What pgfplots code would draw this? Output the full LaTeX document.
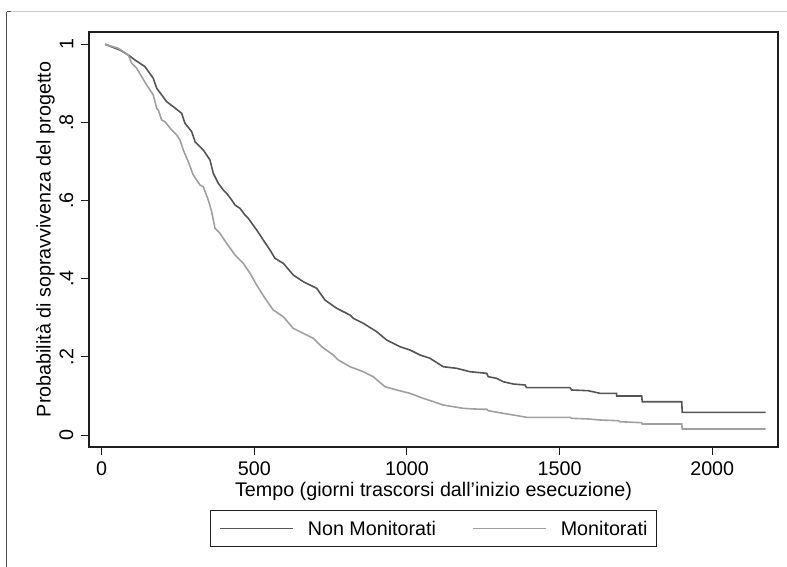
\documentclass[border=0pt]{standalone}
\usepackage{fontspec}
\setmainfont{Liberation Sans}
\usepackage{pgfplots}
\usepackage{pgfplotstable}
\pgfplotsset{compat=1.18}
\definecolor{darkser}{RGB}{85,85,85}
\definecolor{lightser}{RGB}{160,160,160}
\definecolor{framec}{RGB}{30,30,30}

\pgfplotstableread{
t S
10.8 1.000
59.9 0.9854
87.1 0.9726
109.1 0.9598
141.8 0.9427
169.0 0.9130
180.2 0.8874
212.9 0.8531
234.5 0.8403
262.0 0.8234
272.8 0.7978
294.8 0.7763
305.6 0.7507
332.8 0.7295
354.7 0.7039
365.5 0.6698
381.9 0.6442
398.3 0.6271
409.4 0.6186
425.8 0.6015
436.6 0.5887
453.0 0.5802
469.4 0.5631
480.2 0.5546
507.7 0.5247
529.3 0.4991
551.3 0.4735
567.6 0.4523
594.8 0.4395
627.6 0.4095
660.3 0.3924
704.2 0.3755
731.4 0.3455
769.7 0.3243
813.3 0.3071
824.1 0.2987
856.9 0.2859
900.8 0.2644
933.5 0.2432
977.1 0.2260
1009.8 0.2176
1042.6 0.2048
1075.4 0.1963
1118.9 0.1748
1162.8 0.1707
1206.4 0.1620
1261.1 0.1579
1266.3 0.1492
1293.8 0.1451
1315.4 0.1364
1348.2 0.1305
1386.5 0.1280
1392.1 0.1211
1533.9 0.1211
1539.5 0.1152
1593.8 0.1134
1632.2 0.1067
1686.9 0.1067
1687.0 0.0998
1768.8 0.0998
1770.7 0.0852
1900.0 0.0852
1901.7 0.0581
2174.9 0.0581
}\nonmon

\pgfplotstableread{
t S
10.8 1.000
54.4 0.9898
87.1 0.9726
98.3 0.9514
114.6 0.9386
131.0 0.9171
147.4 0.8958
169.0 0.8702
180.2 0.8362
185.4 0.8318
196.5 0.8062
207.3 0.8019
229.3 0.7806
245.7 0.7679
256.5 0.7551
267.3 0.7295
283.7 0.6995
300.0 0.6655
322.0 0.6399
332.8 0.6355
349.2 0.6015
360.3 0.5715
371.1 0.5291
387.5 0.5162
409.4 0.4906
436.6 0.4607
463.8 0.4395
485.8 0.4139
507.7 0.3839
534.9 0.3499
562.1 0.3199
594.8 0.3028
627.6 0.2731
660.3 0.2603
693.1 0.2475
720.6 0.2260
758.6 0.2048
775.0 0.1920
813.3 0.1748
856.9 0.1620
889.6 0.1492
928.0 0.1236
966.3 0.1152
1009.8 0.1067
1053.4 0.0939
1118.9 0.0768
1184.4 0.0683
1222.7 0.0665
1261.1 0.0658
1266.3 0.0622
1315.4 0.0555
1348.2 0.0512
1392.1 0.0453
1533.9 0.0453
1539.5 0.0427
1593.8 0.0410
1632.2 0.0384
1692.0 0.0366
1697.6 0.0340
1768.8 0.0315
1770.7 0.0282
1900.0 0.0282
1901.7 0.0154
2174.9 0.0154
}\mon

\begin{document}
\fontsize{19.8}{23.5}\selectfont
\begin{tikzpicture}
\begin{axis}[
  scale only axis,
  width=689bp, height=415bp,
  xmin=-41.6, xmax=2215.4,
  ymin=-0.0307, ymax=1.0315,
  axis line style={framec, line width=1.2bp},
  tick align=outside,
  major tick length=8bp,
  tick style={framec, line width=1bp},
  xtick pos=left, ytick pos=left,
  xtick={0,500,1000,1500,2000},
  xticklabels={0,500,1000,1500,2000},
  ytick={0,0.2,0.4,0.6,0.8,1},
  yticklabels={0,.2,.4,.6,.8,1},
  yticklabel style={rotate=90, anchor=south, inner sep=0pt},
  xticklabel style={anchor=north, inner sep=0pt, text height=14bp, text depth=0pt},
  yticklabel shift=7.5bp,
  xticklabel shift=6.5bp,
  xlabel={Tempo (giorni trascorsi dall'inizio esecuzione)},
  ylabel={Probabilità di sopravvivenza del progetto},
  xlabel style={inner sep=0pt, text height=13bp, text depth=4bp, at={(axis description cs:0.5,-0.0795)}, anchor=north, yshift=-3.5bp},
  ylabel style={inner sep=0pt, at={(axis description cs:-0.0493,0.5)}, anchor=south},
  legend columns=2,
  legend image code/.code={\draw[#1, line width=1.5bp] (0bp,0bp) -- (73bp,0bp);},
  legend style={at={(0.5,0)}, anchor=north, yshift=-63bp,
    draw=framec, line width=1bp, inner xsep=9bp, inner ysep=11bp,
    nodes={inner sep=0pt, text height=14bp, text depth=0pt, anchor=west},
    /tikz/every odd column/.append style={column sep=13.7bp},
    /tikz/every even column/.append style={column sep=36.5bp}},
]
\addplot[darkser, line width=1.6bp] table[x=t, y=S] {\nonmon};
\addlegendentry{Non Monitorati}
\addplot[lightser, line width=1.6bp] table[x=t, y=S] {\mon};
\addlegendentry{Monitorati}
\end{axis}
\draw[black!70, line width=1bp] ([shift={(-82bp,435bp)}]current axis.south west) -- ([shift={(-82bp,-120bp)}]current axis.south west);
\draw[black!20, line width=1bp] ([shift={(-78bp,435bp)}]current axis.south west) -- ([shift={(698bp,435bp)}]current axis.south west);
\draw[black!70, line width=1bp] ([shift={(-82bp,435bp)}]current axis.south west) -- ([shift={(-78bp,435bp)}]current axis.south west);
\pgfresetboundingbox
\path[use as bounding box] ([shift={(-89bp,-120bp)}]current axis.south west) rectangle ([shift={(698bp,447bp)}]current axis.south west);
\end{tikzpicture}
\end{document}
